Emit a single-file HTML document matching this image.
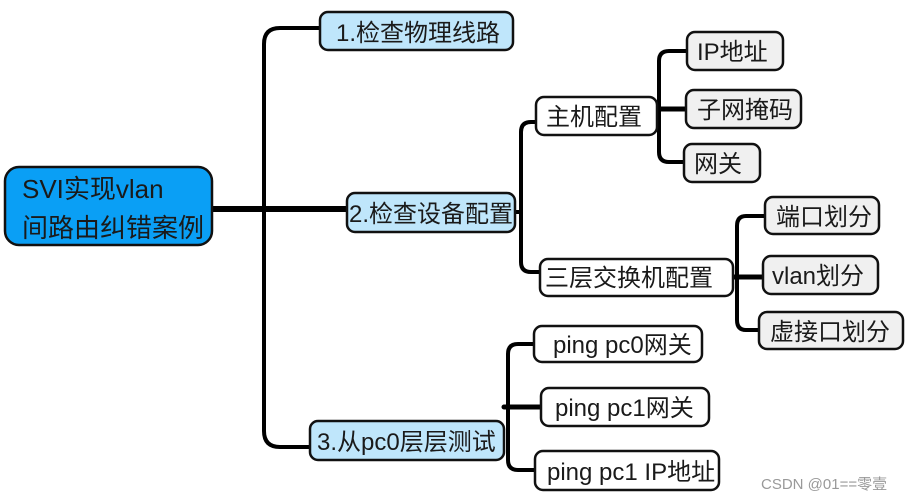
<!DOCTYPE html>
<html><head><meta charset="utf-8"><style>
html,body{margin:0;padding:0;background:#fff;}
svg{display:block;}
text{font-family:"Liberation Sans","Noto Sans CJK SC",sans-serif;fill:#1a1a1a;}
</style></head><body>
<svg width="908" height="501" viewBox="0 0 908 501" xmlns="http://www.w3.org/2000/svg">
<g fill="none" stroke="#000" stroke-linecap="round">
<path d="M212 209 H347" stroke-width="6"/>
<path d="M320 28 H280 Q264 28 264 44 V431 Q264 447 280 447 H310" stroke-width="4"/>
<path d="M536 122 H531 Q521 122 521 132 V262 Q521 272 531 272 H540" stroke-width="4"/>
<path d="M515 212 H521" stroke-width="4"/>
<path d="M687 51 H669 Q659 51 659 61 V152 Q659 162 669 162 H684" stroke-width="4"/>
<path d="M657 109 H686" stroke-width="5"/>
<path d="M765 216 H746 Q737 216 737 226 V320 Q737 330 746 330 H759" stroke-width="4"/>
<path d="M733 277 H763" stroke-width="5"/>
<path d="M534 344 H518 Q508 344 508 354 V460 Q508 470 518 470 H535" stroke-width="4"/>
<path d="M504 407 H541" stroke-width="5"/>
</g>
<g stroke="#111" stroke-width="2.5">
<rect x="5" y="167" width="207" height="78" rx="14" fill="#0a9ff5"/>
<rect x="320" y="12" width="193" height="38" rx="8" fill="#bfe6fb"/>
<rect x="347" y="193" width="168" height="39" rx="8" fill="#bfe6fb"/>
<rect x="310" y="421" width="194" height="39" rx="8" fill="#bfe6fb"/>
<rect x="536" y="97" width="121" height="38" rx="8" fill="#fff"/>
<rect x="540" y="259" width="193" height="37" rx="8" fill="#fff"/>
<rect x="687" y="32" width="96" height="38" rx="8" fill="#f0f0f0"/>
<rect x="686" y="90" width="115" height="38" rx="8" fill="#f0f0f0"/>
<rect x="684" y="144" width="76" height="38" rx="8" fill="#f0f0f0"/>
<rect x="765" y="197" width="114" height="37" rx="8" fill="#f0f0f0"/>
<rect x="763" y="256" width="115" height="38" rx="8" fill="#f0f0f0"/>
<rect x="759" y="312" width="144" height="37" rx="8" fill="#f0f0f0"/>
<rect x="534" y="326" width="168" height="36" rx="8" fill="#fff"/>
<rect x="541" y="388" width="168" height="38" rx="8" fill="#fff"/>
<rect x="535" y="451" width="184" height="39" rx="8" fill="#fff"/>
</g>
<g font-size="26">
<text x="22" y="198">SVI实现vlan</text>
<text x="22" y="237">间路由纠错案例</text>
</g>
<g font-size="24">
<text x="336" y="41">1.检查物理线路</text>
<text x="349" y="222">2.检查设备配置</text>
<text x="317" y="450">3.从pc0层层测试</text>
<text x="546" y="125">主机配置</text>
<text x="545" y="286">三层交换机配置</text>
<text x="697" y="60">IP地址</text>
<text x="697" y="118">子网掩码</text>
<text x="694" y="172">网关</text>
<text x="776" y="225">端口划分</text>
<text x="772" y="284">vlan划分</text>
<text x="770" y="340">虚接口划分</text>
<text x="553" y="353">ping pc0网关</text>
<text x="555" y="416">ping pc1网关</text>
<text x="547" y="480">ping pc1 IP地址</text>
</g>
<text x="761" y="489" font-size="15" style="fill:#999">CSDN @01==零壹</text>
</svg>
</body></html>
